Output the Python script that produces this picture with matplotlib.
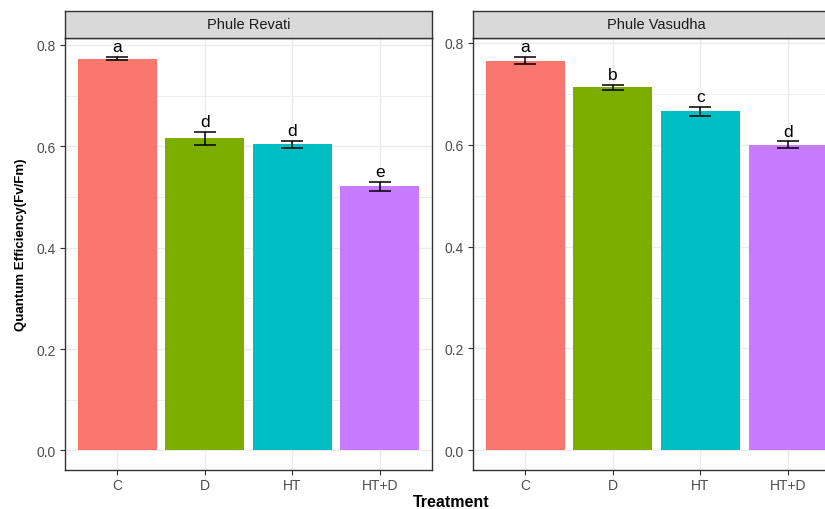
import matplotlib
matplotlib.use("Agg")
import matplotlib.pyplot as plt
from matplotlib.ticker import MultipleLocator, FormatStrFormatter
import numpy as np

plt.rcParams['font.family'] = ['Liberation Sans', 'DejaVu Sans']

treatments = ["C", "D", "HT", "HT+D"]
colors = ["#F8766D", "#7CAE00", "#00BFC4", "#C77CFF"]

panels = ["Phule Revati", "Phule Vasudha"]
revati_mean = [0.773, 0.616, 0.604, 0.521]
revati_se = [0.003, 0.013, 0.007, 0.009]
revati_letters = ["a", "d", "d", "e"]
vasudha_mean = [0.765, 0.713, 0.666, 0.600]
vasudha_se = [0.007, 0.005, 0.009, 0.0065]
vasudha_letters = ["a", "b", "c", "d"]

W, H = 825, 510
fig = plt.figure(figsize=(W / 100, H / 100), dpi=100)

def fx(px):
    return px / W

def fy(py):
    return 1 - py / H

panel_left = [64.5, 472.5]
panel_w = 368
top_px, strip_bot_px, bot_px = 12, 38.5, 471

data = [(revati_mean, revati_se, revati_letters), (vasudha_mean, vasudha_se, vasudha_letters)]

for i, (name, (means, ses, letters)) in enumerate(zip(panels, data)):
    x0 = panel_left[i]
    ax = fig.add_axes([fx(x0), fy(bot_px), panel_w / W, (bot_px - strip_bot_px) / H])
    sax = fig.add_axes([fx(x0), fy(strip_bot_px), panel_w / W, (strip_bot_px - top_px) / H])
    xs = np.arange(len(treatments))
    means = np.array(means)
    ses = np.array(ses)
    ax.bar(xs, means, width=0.9, color=colors, zorder=2)
    ax.vlines(xs, means - ses, means + ses, color="black", lw=1.1, zorder=3)
    ax.hlines(means - ses, xs - 0.125, xs + 0.125, color="black", lw=1.1, zorder=3)
    ax.hlines(means + ses, xs - 0.125, xs + 0.125, color="black", lw=1.1, zorder=3)
    for x, m, s, lab in zip(xs, means, ses, letters):
        ax.annotate(lab, (x, m + s), xytext=(0, 2.0), textcoords="offset points",
                    ha="center", va="bottom", fontsize=12.5, color="black", zorder=4)
    ymax = max(means + ses)
    ax.set_ylim(-0.05 * ymax, 1.05 * ymax)
    ax.set_xlim(-0.6, len(treatments) - 0.4)
    ax.set_xticks(xs)
    ax.set_xticklabels(treatments)
    ax.yaxis.set_major_locator(MultipleLocator(0.2))
    ax.yaxis.set_minor_locator(MultipleLocator(0.1))
    ax.yaxis.set_major_formatter(FormatStrFormatter("%.1f"))
    ax.grid(True, which="major", color="#EBEBEB", lw=1.0, zorder=0)
    ax.grid(True, which="minor", axis="y", color="#EBEBEB", lw=0.6, zorder=0)
    ax.set_axisbelow(True)
    ax.tick_params(axis="both", which="major", length=3.5, width=0.8, color="#333333",
                   labelcolor="#4D4D4D", labelsize=10, pad=2.5)
    ax.tick_params(axis="y", which="minor", length=0)
    for sp in ax.spines.values():
        sp.set_color("#333333")
        sp.set_linewidth(1.0)
    sax.set_facecolor("#D9D9D9")
    sax.set_xticks([])
    sax.set_yticks([])
    for sp in sax.spines.values():
        sp.set_color("#333333")
        sp.set_linewidth(1.0)
    sax.text(0.5, 0.5, name, ha="center", va="center", fontsize=10.5, color="#1A1A1A",
             transform=sax.transAxes)

fig.text(fx(451), fy(503), "Treatment", ha="center", va="center", fontsize=11.5,
         fontweight="bold", color="black")
fig.text(fx(21), fy(245), "Quantum Efficiency(Fv/Fm)", ha="center", va="center",
         rotation=90, fontsize=9.5, fontweight="bold", color="black")

fig.savefig("out.png", dpi=100)
